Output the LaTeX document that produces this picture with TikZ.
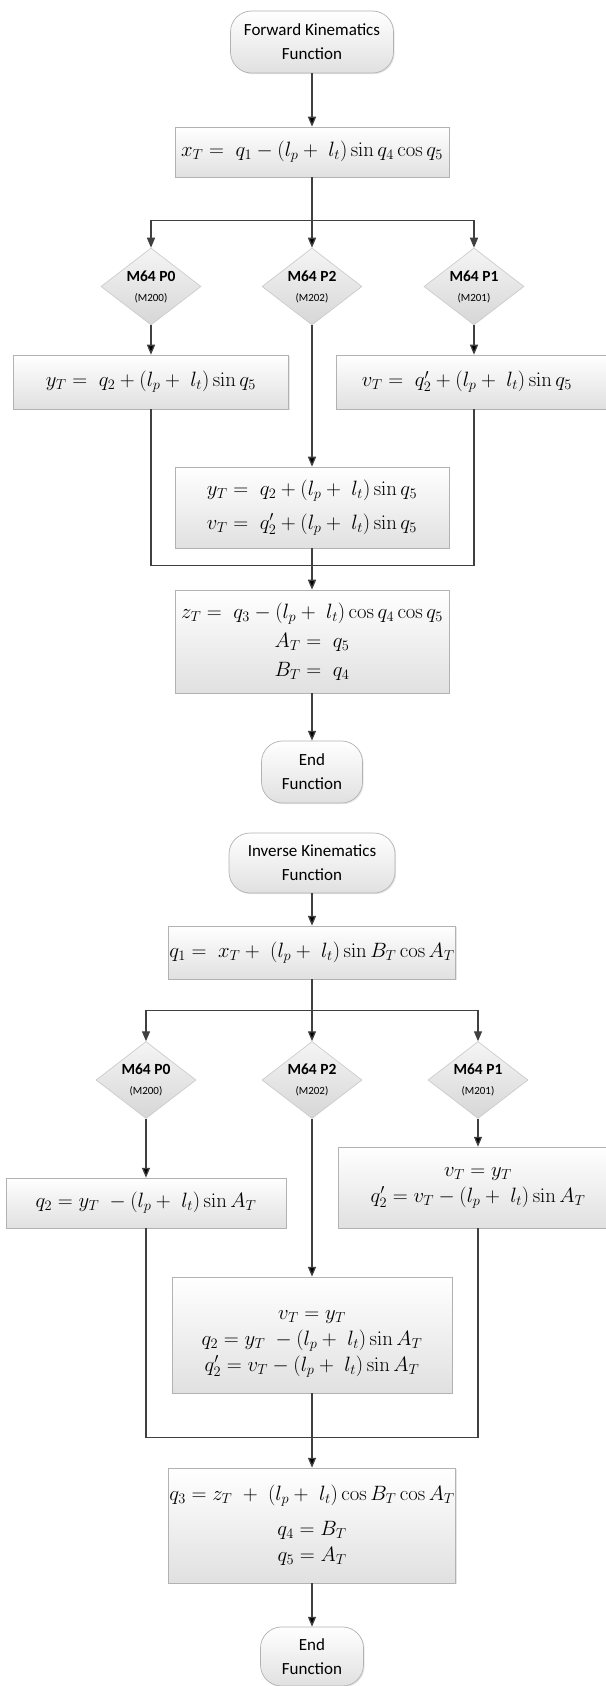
\documentclass[tikz,border=0pt]{standalone}
\usepackage[no-math]{fontspec}
\setmainfont{Carlito}
\usetikzlibrary{arrows,shapes.geometric,shadows}

\begin{document}
\begin{tikzpicture}[x=1pt,y=1pt,>=triangle 45,
            line/.style={draw=black!75,line width=1.3pt},
            term node/.style={rectangle,rounded corners=21pt,draw=black!30,line width=0.7pt,
              top color=white,bottom color=black!12,align=center,
              drop shadow={shadow xshift=1.2pt,shadow yshift=-1.2pt,opacity=0.2},
              font=\fontsize{17}{24}\selectfont},
            box node/.style={rectangle,draw=black!30,line width=0.7pt,
              top color=white,bottom color=black!12,align=center,inner sep=1pt,
              drop shadow={shadow xshift=1.2pt,shadow yshift=-1.2pt,opacity=0.2},
              font=\fontsize{19.5}{26}\selectfont},
            dec node/.style={diamond,aspect=1.3,draw=black!20,line width=0.7pt,
              top color=black!4,bottom color=black!16,inner sep=0pt,align=center,
              minimum width=100pt,minimum height=77pt,
              font=\fontsize{11}{20}\selectfont}]
            \useasboundingbox (0,0) rectangle (605,-1686);
            % forward kinematics
            \node[term node, minimum width=163pt, minimum height=62pt] (1) at (312,-42) {Forward Kinematics\\Function};
            \node[box node, minimum width=274pt, minimum height=50pt] (2) [below of=1, node distance=110pt] {$x_T =\; q_1 - \big(l_p +\; l_t\big)\sin q_4 \cos q_5$};
            \node[dec node] (4) [below of=2, node distance=134.5pt] {{\fontsize{15.5}{20}\selectfont\bfseries M64 P2}\\(M202)};
            \node[dec node] (3) [left of=4, node distance=161pt] {{\fontsize{15.5}{20}\selectfont\bfseries M64 P0}\\(M200)};
            \node[dec node] (5) [right of=4, node distance=162pt] {{\fontsize{15.5}{20}\selectfont\bfseries M64 P1}\\(M201)};
            \node[box node, minimum width=275pt, minimum height=54pt] (6) [below of=3, node distance=95.5pt] {$y_T =\; q_2 + \big(l_p + \;l_t\big)\sin q_5$};
            \node[box node, minimum width=275pt, minimum height=54pt] (7) [below of=5, node distance=95.5pt] {$v_T =\; q'_2 + \big(l_p + \;l_t\big)\sin q_5$\hspace{14pt}};
            \node[box node, minimum width=274pt, minimum height=81pt] (8) [below of=4, node distance=221pt] {$y_T =\; q_2 + \big(l_p + \;l_t\big)\sin q_5$\\[8pt]$v_T =\; q'_2 + \big(l_p + \;l_t\big)\sin q_5$};
            \node[box node, minimum width=274pt, minimum height=103pt] (9) [below of=8, node distance=134pt] {$z_T =\; q_3 - \big(l_p + \;l_t\big)\cos q_4 \cos q_5$\\[3pt]$A_T =\; q_5$\\[3pt]$B_T =\; q_4$};
            \node[term node, minimum width=101pt, minimum height=62pt] (10) [below of=9, node distance=130.5pt] {End\\Function};
            \coordinate (s1) at ([yshift=-43pt]2.south);
            \coordinate (m1) at ([yshift=-17pt]8.south);
            % inverse kinematics
            \node[term node, minimum width=166pt, minimum height=60pt] (11) [below of=10, node distance=91pt] {Inverse Kinematics\\Function};
            \node[box node, minimum width=280pt, minimum height=53pt] (12) [below of=11, node distance=89.5pt] {$q_1 =\; x_T + \;\big(l_p + \;l_t\big)\sin B_T \cos A_T$};
            \node[dec node] (14) [below of=12, node distance=127.5pt] {{\fontsize{15.5}{20}\selectfont\bfseries M64 P2}\\(M202)};
            \node[dec node] (13) [left of=14, node distance=166pt] {{\fontsize{15.5}{20}\selectfont\bfseries M64 P0}\\(M200)};
            \node[dec node] (15) [right of=14, node distance=166pt] {{\fontsize{15.5}{20}\selectfont\bfseries M64 P1}\\(M201)};
            \node[box node, minimum width=280pt, minimum height=50pt] (16) [below of=13, node distance=123pt] {$q_2 = y_T\; - \big(l_p + \;l_t\big)\sin A_T$};
            \node[box node, minimum width=280pt, minimum height=81pt] (17) [below of=15, node distance=107.5pt] {$v_T = y_T$\\$q'_2 = v_T - \big(l_p + \;l_t\big)\sin A_T$};
            \node[box node, minimum width=280pt, minimum height=116pt] (18) [below of=14, node distance=255pt] {\rule{0pt}{26pt}$v_T = y_T$\\$q_2 = y_T\; - \big(l_p + \;l_t\big)\sin A_T$\\$q'_2 = v_T - \big(l_p + \;l_t\big)\sin A_T$};
            \node[box node, minimum width=280pt, minimum height=115pt] (19) [below of=18, node distance=190.5pt] {$q_3 = z_T\; + \;\big(l_p + \;l_t\big)\cos B_T \cos A_T$\\[9pt]$q_4 = B_T$\\$q_5 = A_T$};
            \node[term node, minimum width=103pt, minimum height=59pt] (20) [below of=19, node distance=131pt] {End\\Function};
            \coordinate (s2) at ([yshift=-31pt]12.south);
            \coordinate (m2) at ([yshift=-44pt]18.south);
            \path[line,->]
            (1) edge (2)
            (2) edge (4)
            (3) edge (6)
            (5) edge (7)
            (4) edge (8)
            (8) edge (9)
            (9) edge (10)
            (11) edge (12)
            (12) edge (14)
            (13) edge (16)
            (15) edge (17)
            (14) edge (18)
            (18) edge (19)
            (19) edge (20)
            ;
            \draw[line,->] (s1) -| (3);
            \draw[line,->] (s1) -| (5);
            \draw[line] (6) |- (m1) -| (7);
            \draw[line,->] (s2) -| (13);
            \draw[line,->] (s2) -| (15);
            \draw[line] (16) |- (m2) -| (17);
        \end{tikzpicture}
\end{document}
